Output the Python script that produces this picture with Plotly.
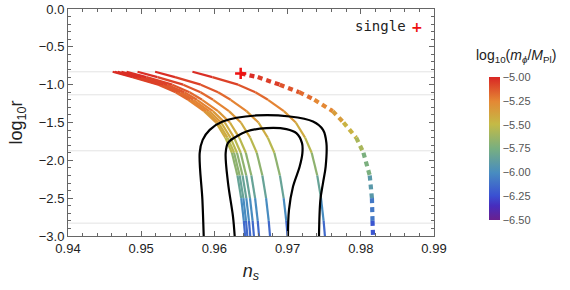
import plotly.graph_objects as go
from plotly.colors import sample_colorscale

# ---------------- data ----------------
# common log10 r levels for the solid tracks
lr_levels = [-0.83, -0.9, -1.0, -1.1, -1.2, -1.35, -1.5, -1.7, -1.9, -2.2, -2.5, -2.8, -3.0]
mass_levels = [-5.0, -5.04, -5.1, -5.15, -5.2, -5.29, -5.37, -5.48, -5.59, -5.76, -5.92, -6.09, -6.2]

track_A = [0.9461, 0.94882, 0.95234, 0.95470, 0.95642, 0.95859, 0.96022, 0.96149, 0.96239, 0.96315, 0.96366, 0.96402, 0.9642]
track_B = [0.9464, 0.94912, 0.95264, 0.95500, 0.95672, 0.95889, 0.96052, 0.96179, 0.96269, 0.96345, 0.96396, 0.96432, 0.9645]
track_C = [0.9468, 0.94952, 0.95304, 0.95540, 0.95712, 0.95929, 0.96092, 0.96219, 0.96309, 0.96385, 0.96436, 0.96472, 0.9649]
track_D = [0.9473, 0.95002, 0.95354, 0.95590, 0.95762, 0.95979, 0.96142, 0.96269, 0.96359, 0.96435, 0.96486, 0.96522, 0.9654]
track_E = [0.9480, 0.95072, 0.95424, 0.95660, 0.95832, 0.96049, 0.96212, 0.96339, 0.96429, 0.96505, 0.96556, 0.96592, 0.9661]
track_F = [0.9495, 0.95222, 0.95574, 0.95810, 0.95982, 0.96199, 0.96362, 0.96489, 0.96579, 0.96655, 0.96706, 0.96742, 0.9676]
track_G = [0.9519, 0.95462, 0.95814, 0.96050, 0.96222, 0.96439, 0.96602, 0.96729, 0.96819, 0.96895, 0.96946, 0.96982, 0.9700]
track_H = [0.9570, 0.95972, 0.96324, 0.96560, 0.96732, 0.96949, 0.97112, 0.97239, 0.97329, 0.97405, 0.97456, 0.97492, 0.9751]

# single-field dotted track
single_lr = [-0.852, -0.9, -1.0, -1.1, -1.2, -1.35, -1.5, -1.7, -1.9, -2.2, -2.5, -2.8, -3.0]
single_ns = [0.96359, 0.96592, 0.96892, 0.97158, 0.97366, 0.97616, 0.97764, 0.97937, 0.98036, 0.98122, 0.98152, 0.98160, 0.98167]
single_mass = [-5.0, -5.03, -5.09, -5.15, -5.21, -5.3, -5.4, -5.52, -5.65, -5.83, -6.0, -6.17, -6.28]

# single point
single_pt_ns = [0.96359]
single_pt_lr = [-0.852]

# observational contours
outer_ns = [0.95854, 0.95836, 0.95799, 0.95840, 0.95936, 0.96113, 0.96574, 0.97029, 0.97347, 0.97484, 0.97530, 0.97520, 0.97484, 0.97448, 0.97429]
outer_lr = [-3.0, -2.522, -1.901, -1.729, -1.597, -1.487, -1.407, -1.421, -1.487, -1.597, -1.769, -2.082, -2.298, -2.522, -3.0]
inner_ns = [0.96277, 0.96254, 0.96186, 0.96154, 0.96186, 0.96300, 0.96437, 0.96710, 0.96984, 0.97120, 0.97197, 0.97202, 0.97165, 0.97074, 0.97019, 0.97005]
inner_lr = [-3.0, -2.743, -2.298, -1.901, -1.769, -1.685, -1.619, -1.574, -1.587, -1.640, -1.772, -1.905, -2.082, -2.347, -2.655, -3.0]

ref_lines = [-0.83, -1.134, -1.874, -2.83]

cbar_ticks = [-5.0, -5.25, -5.5, -5.75, -6.0, -6.25, -6.5]
cmin, cmax = -6.5, -5.0

colorscale = [
    [0.0, 'rgb(106,32,142)'],
    [0.1, 'rgb(70,45,190)'],
    [0.17, 'rgb(58,80,210)'],
    [0.33, 'rgb(72,140,192)'],
    [0.5, 'rgb(120,175,128)'],
    [0.67, 'rgb(196,186,70)'],
    [0.83, 'rgb(228,136,52)'],
    [1.0, 'rgb(217,38,36)'],
]

fig = go.Figure()

for v in ref_lines:
    fig.add_shape(type='line', xref='paper', x0=0, x1=1, yref='y', y0=v, y1=v,
                  line=dict(color='#e3e3e3', width=1), layer='below')


def col(m):
    return sample_colorscale(colorscale, [(m - cmin) / (cmax - cmin)])[0]


def gradient_line(xs, ys, ms, width, dash='solid'):
    for i in range(len(xs) - 1):
        m = 0.5 * (ms[i] + ms[i + 1])
        fig.add_trace(go.Scatter(x=[xs[i], xs[i + 1]], y=[ys[i], ys[i + 1]], mode='lines',
                                 line=dict(color=col(m), width=width, dash=dash),
                                 hoverinfo='skip', showlegend=False))


for tr in [track_A, track_B, track_C, track_D, track_E, track_F, track_G, track_H]:
    gradient_line(tr, lr_levels, mass_levels, 2.2)

gradient_line(single_ns, single_lr, single_mass, 4.2, dash='5px,4px')

for xs, ys in [(outer_ns, outer_lr), (inner_ns, inner_lr)]:
    fig.add_trace(go.Scatter(x=xs, y=ys, mode='lines', line=dict(color='black', width=2.2, shape='spline', smoothing=1.0),
                             hoverinfo='skip', showlegend=False))

fig.add_trace(go.Scatter(x=single_pt_ns, y=single_pt_lr, mode='markers',
                         marker=dict(symbol='cross-thin', size=8, line=dict(color='#ee1111', width=2.5)),
                         showlegend=False, hoverinfo='skip'))

# colorbar carrier
fig.add_trace(go.Scatter(x=[None], y=[None], mode='markers', showlegend=False,
                         marker=dict(color=[cmin], cmin=cmin, cmax=cmax, colorscale=colorscale, showscale=True,
                                     colorbar=dict(x=1.15, xanchor='left', y=0.385, yanchor='middle',
                                                   len=0.63, lenmode='fraction', thickness=11, outlinewidth=0,
                                                   xpad=0, ypad=0,
                                                   tickvals=cbar_ticks, tickformat='.2f', ticks='',
                                                   tickfont=dict(family='Liberation Sans, Arial', size=11, color='#555')))))

fig.add_annotation(xref='paper', yref='paper', x=1.225, y=0.795, xanchor='center', yanchor='middle',
                   text='log<sub>10</sub>(<i>m</i><sub><i>ϕ</i></sub>/<i>M</i><sub>Pl</sub>)', showarrow=False,
                   font=dict(family='Liberation Sans, Arial', size=14, color='#222'))

fig.add_annotation(xref='paper', yref='paper', x=0.93, y=0.926, xanchor='right', yanchor='middle',
                   text='single', showarrow=False,
                   font=dict(family='DejaVu Sans Mono', size=14, color='#222'))
fig.add_annotation(xref='paper', yref='paper', x=0.954, y=0.92, xanchor='center', yanchor='middle',
                   text='<b>+</b>', showarrow=False,
                   font=dict(family='DejaVu Sans', size=14, color='#ee1111'))

axis_common = dict(showgrid=False, zeroline=False, showline=True, linecolor='#666', linewidth=1,
                   mirror='ticks', ticks='inside', ticklen=5, tickcolor='#666', tickwidth=1,
                   tickfont=dict(family='Liberation Sans, Arial', size=13, color='#222'))

fig.update_xaxes(range=[0.94, 0.99], dtick=0.01, tickformat='.2f',
                 minor=dict(dtick=0.002, ticks='inside', ticklen=3, tickcolor='#666'),
                 title=dict(text='<i>n</i><sub><i>s</i></sub>', standoff=9,
                            font=dict(family='Liberation Sans, Arial', size=18, color='#222')),
                 **axis_common)
fig.update_yaxes(range=[-3, 0], dtick=0.5, tickformat='.1f',
                 minor=dict(dtick=0.1, ticks='inside', ticklen=3, tickcolor='#666'),
                 title=dict(text='log<sub>10</sub>r', standoff=11,
                            font=dict(family='Liberation Sans, Arial', size=18, color='#222')),
                 **axis_common)

fig.update_layout(width=570, height=290, margin=dict(l=68, r=136, t=9, b=54, autoexpand=False),
                  plot_bgcolor='white', paper_bgcolor='white')

fig.write_html('out.html', config={'displayModeBar': False},
               post_script="document.body.style.margin='0';document.body.style.overflow='hidden';")
